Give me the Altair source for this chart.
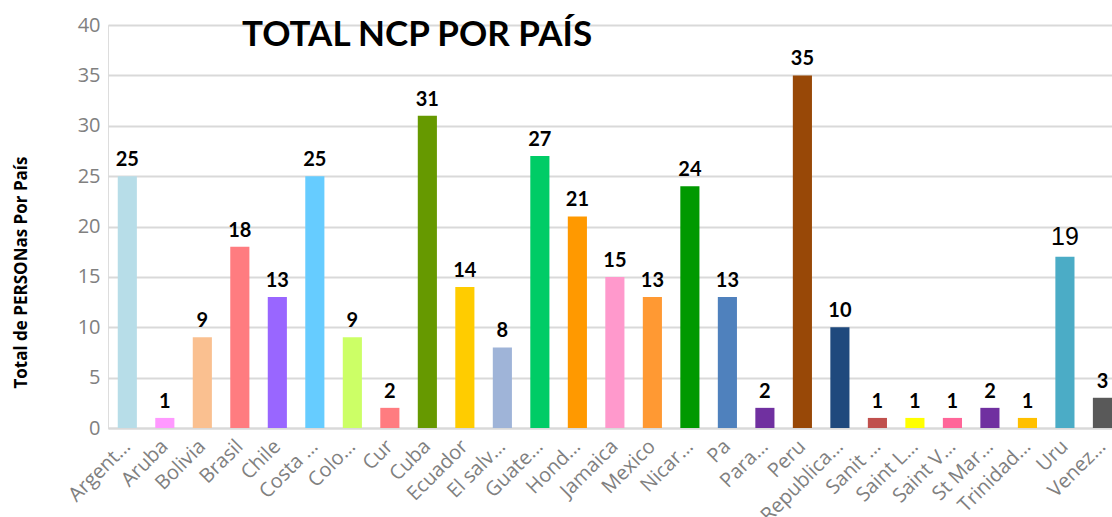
import altair as alt
import pandas as pd

paises = ["Argent…", "Aruba", "Bolivia", "Brasil", "Chile", "Costa …", "Colo…", "Cur",
          "Cuba", "Ecuador", "El salv…", "Guate…", "Hond…", "Jamaica", "Mexico",
          "Nicar…", "Pa", "Para…", "Peru", "Republica…", "Sanit …", "Saint L…",
          "Saint V…", "St Mar…", "Trinidad…", "Uru", "Venez…"]
valores = [25, 1, 9, 18, 13, 25, 9, 2, 31, 14, 8, 27, 21, 15, 13, 24, 13, 2, 35, 10,
           1, 1, 1, 2, 1, 17, 3]
etiquetas = ["25", "1", "9", "18", "13", "25", "9", "2", "31", "14", "8", "27", "21",
             "15", "13", "24", "13", "2", "35", "10", "1", "1", "1", "2", "1", "19", "3"]
colores = ["#b7dde8", "#ff99ff", "#fac090", "#ff7c80", "#9966ff", "#66ccff", "#ccff66",
           "#ff7c80", "#669900", "#ffcc00", "#9fb4d8", "#00cc66", "#ff9900", "#ff99cc",
           "#ff9933", "#009900", "#4f81bd", "#7030a0", "#984807", "#1f497d", "#c0504d",
           "#ffff00", "#ff6699", "#7030a0", "#ffc000", "#4bacc6", "#595959"]
especial = [False] * 25 + [True, False]

df = pd.DataFrame({"pais": paises, "valor": valores, "etiqueta": etiquetas,
                   "color": colores, "especial": especial})

x = alt.X("pais:N", sort=paises,
          scale=alt.Scale(paddingInner=0.49, paddingOuter=0.13, align=1),
          axis=alt.Axis(title=None, labelAngle=-45, labelAlign="right",
                        labelBaseline="middle", labelFont="Open Sans", labelFontSize=20,
                        labelColor="#808080", labelPadding=15, ticks=False,
                        domainColor="#d9d9d9", domainWidth=2, labelOverlap=False,
                        labelBound=False))
y = alt.Y("valor:Q", scale=alt.Scale(domain=[0, 40], nice=False),
          axis=alt.Axis(values=list(range(0, 41, 5)), title="Total de PERSONas Por País",
                        titleFont="Open Sans", titleFontSize=17, titleFontWeight="bold",
                        titleColor="#000000", titleX=-87, titleY=247, titleAngle=-90,
                        titleAlign="center", titleBaseline="middle",
                        labelFont="Open Sans", labelFontSize=20, labelColor="#808080",
                        labelPadding=8, ticks=False, domain=False,
                        gridColor="#d9d9d9", gridWidth=2))

bars = alt.Chart(df).mark_bar().encode(
    x=x, y=y, color=alt.Color("color:N", scale=None))

labels = alt.Chart(df).transform_filter("!datum.especial").mark_text(
    font="Lato", fontSize=20, fontWeight="bold", color="#000000",
    baseline="alphabetic", dy=-10).encode(x=x, y=y, text="etiqueta:N")

label_esp = alt.Chart(df).transform_filter("datum.especial").mark_text(
    font="Liberation Sans", fontSize=25, fontWeight="normal", color="#000000",
    baseline="alphabetic", dy=-12).encode(x=x, y=y, text="etiqueta:N")

chart = alt.layer(bars, labels, label_esp).properties(
    width=1004, height=403,
    title=alt.TitleParams("TOTAL NCP POR PAÍS", anchor="start", frame="group", dx=134,
                          offset=-38, font="Lato", fontSize=35, fontWeight="bold",
                          color="#000000"),
    autosize=alt.AutoSizeParams(type="none"),
    padding={"left": 108, "top": 25, "right": 0, "bottom": 89},
).configure_view(stroke=None).configure(background="#ffffff")

chart.save("out.html", embed_options={"renderer": "svg", "actions": False})
